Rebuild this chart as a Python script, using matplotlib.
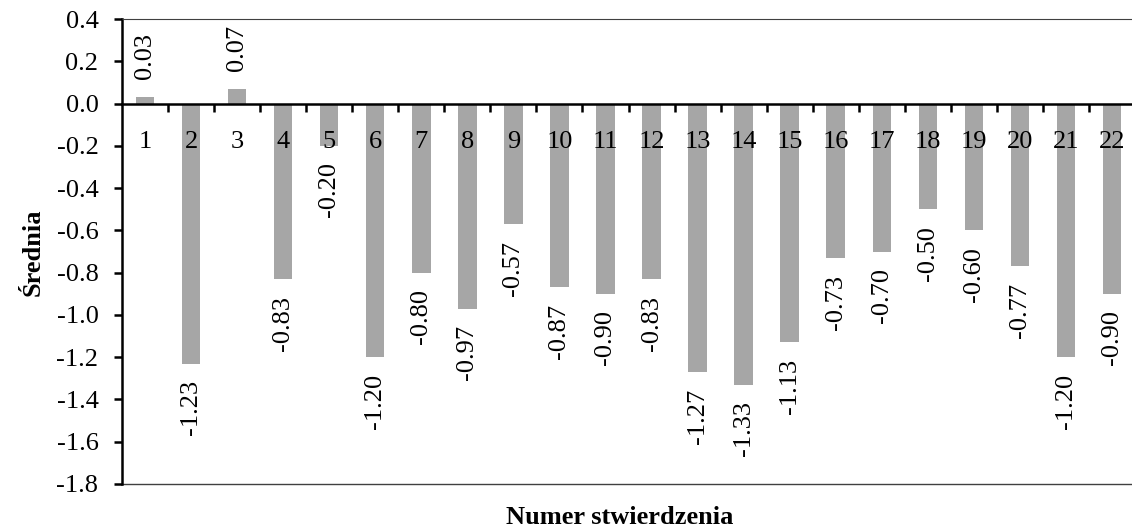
import matplotlib
matplotlib.use("Agg")
import matplotlib.pyplot as plt
import numpy as np

plt.rcParams['font.family'] = ['Liberation Serif', 'DejaVu Serif']
plt.rcParams['axes.unicode_minus'] = False

# dane
numery = [str(i) for i in range(1, 23)]
srednie = [0.03, -1.23, 0.07, -0.83, -0.20, -1.20, -0.80, -0.97, -0.57, -0.87, -0.90,
           -0.83, -1.27, -1.33, -1.13, -0.73, -0.70, -0.50, -0.60, -0.77, -1.20, -0.90]
etykiety = ["%.2f" % v for v in srednie]
yticki = [-1.8, -1.6, -1.4, -1.2, -1.0, -0.8, -0.6, -0.4, -0.2, 0.0, 0.2, 0.4]

fs = 19

fig = plt.figure(figsize=(11.32, 5.29), dpi=100)
ax = fig.add_axes([122/1132, 45/529, 1013/1132, 465/529])
ax.set_axisbelow(False)

x = np.arange(len(numery))
ax.bar(x, srednie, width=0.4, color='#A6A6A6', zorder=2)

for xi, v, t in zip(x, srednie, etykiety):
    if v >= 0:
        ax.annotate(t, (xi, v), xytext=(0, 13), textcoords='offset points',
                    rotation=90, ha='center', va='bottom', fontsize=fs)
    else:
        ax.annotate(t, (xi, v), xytext=(0, -12), textcoords='offset points',
                    rotation=90, ha='center', va='top', fontsize=fs)

ax.set_xlim(-0.5, len(numery) - 0.5)
ax.set_ylim(-1.8, 0.4)
ax.set_yticks(yticki)
ax.set_yticklabels(["%.1f" % v for v in yticki], fontsize=fs)

ax.spines['bottom'].set_position(('data', 0))
ax.spines['bottom'].set_linewidth(1.8)
ax.spines['bottom'].set_zorder(3)
ax.spines['left'].set_linewidth(1.8)
ax.spines['top'].set_linewidth(0.8)
ax.spines['top'].set_color('#404040')
ax.spines['right'].set_visible(False)
ax.axhline(-1.8, color='#404040', lw=1.0, clip_on=False)

ax.set_xticks(x)
ax.set_xticklabels(numery, fontsize=fs)
ax.set_xticks(x[:-1] + 0.5, minor=True)
ax.tick_params(axis='x', which='major', length=0, pad=20)
ax.tick_params(axis='x', which='minor', length=6, width=1.8, direction='out')
ax.tick_params(axis='y', length=6, width=1.8, direction='out', pad=11)

fig.text(33/1132, 1 - 252/529, 'Średnia', fontsize=fs, fontweight='bold',
         rotation=90, ha='center', va='center')
fig.text(620/1132, 1 - 518/529, 'Numer stwierdzenia', fontsize=fs, fontweight='bold',
         ha='center', va='center')

fig.savefig('out.png', dpi=100)
